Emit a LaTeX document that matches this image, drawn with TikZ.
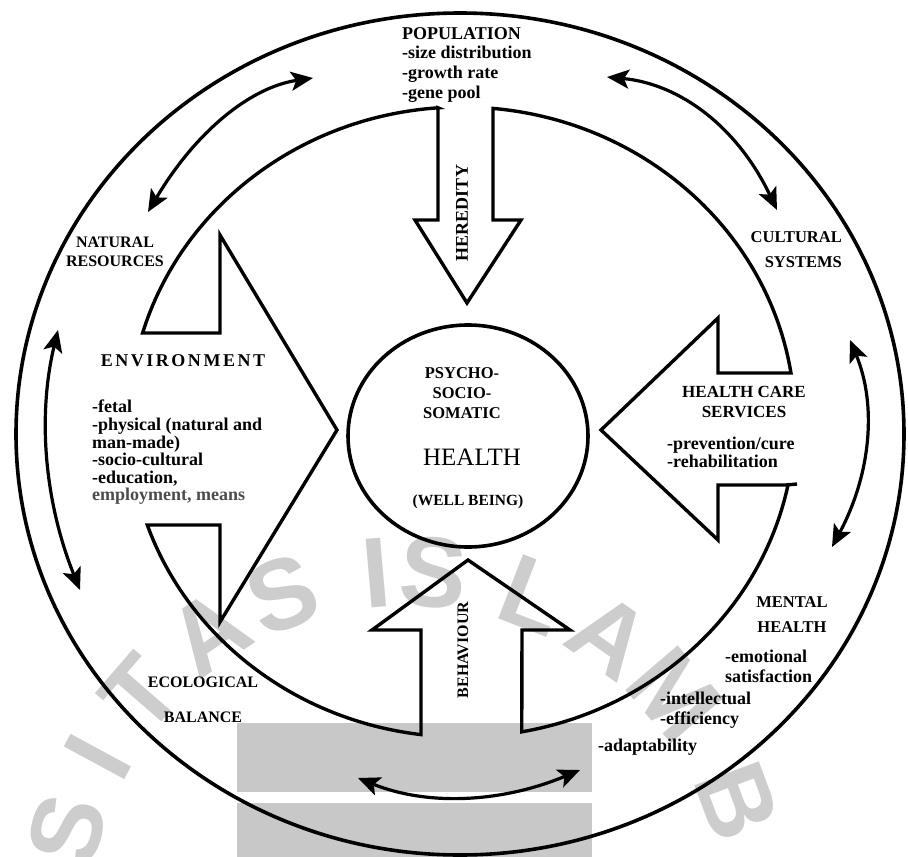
\documentclass[tikz,border=0pt]{standalone}
\usepackage{fontspec}
\setmainfont{Liberation Serif}
\newfontfamily\wmfont{Liberation Sans}
\newfontfamily\widefont[LetterSpace=14]{Liberation Serif}
\usepackage{tikz}
\usetikzlibrary{arrows.meta}
\definecolor{boxgray}{HTML}{C8C8C8}
\definecolor{wmgray}{HTML}{CDCDCD}
\newcommand\lbl[2]{\fontsize{#1}{#2}\selectfont\bfseries}

\begin{document}
\begin{tikzpicture}[x=1pt,y=-1pt, every node/.style={inner sep=0pt,font=\lbl{18}{19.7}},
  ring/.style={line width=3.6pt},
  outline/.style={line width=3.4pt,line join=miter},
  twoway/.style={line width=3.2pt,{Stealth[length=22pt,width=19pt,inset=5pt]}-{Stealth[length=22pt,width=19pt,inset=5pt]}},
  wm/.style={text=wmgray,font=\fontsize{100}{100}\selectfont\wmfont\bfseries}]
  \useasboundingbox (0,0) rectangle (908,857);
  \fill[boxgray] (237,723) rectangle (592,792);
  \fill[boxgray] (237,803) rectangle (592,857);
  \foreach \l/\a in {S/164.6,I/151.6,T/139.1,A/124.3,S/110.8,I/95,S/85.7,L/68.9,A/54.9,M/40.6,B/20.4}
    \path (407,924) ++(-\a:352) node[wm,rotate=\a-90] {\l};
  % rings and the four big arrows
  \draw[ring] (460,434) ellipse [x radius=444, y radius=421];
  \draw[ring] (468,436) ellipse [x radius=120, y radius=111];
  \draw[outline] (438,107.8) -- (438,220) -- (415,220) -- (467,303) -- (521,220) -- (493,220) -- (493,108.4)
    arc[start angle=-84.66,end angle=-8.95,x radius=333,y radius=315]
    -- (718,373) -- (718,318) -- (601,430) -- (718,540) -- (718,485) -- (788,485)
    arc[start angle=11.54,end angle=79.62,x radius=333,y radius=315]
    -- (522,630) -- (570,630) -- (468,560) -- (372,630) -- (421,630) -- (421,734.6)
    arc[start angle=97.07,end angle=160.91,x radius=333,y radius=315]
    -- (220,525) -- (220,622) -- (337,430) -- (220,235) -- (220,333) -- (142.6,333)
    arc[start angle=196.41,end angle=265.87,x radius=333,y radius=315] -- cycle;
  \draw[outline] (786,485) -- (797,484);
  % two-way arrows in the outer band
  \coordinate (nrA) at (148,212); \coordinate (popA) at (313,78);
  \coordinate (popB) at (607,77); \coordinate (csA) at (777,210);
  \coordinate (nrB) at (58,330); \coordinate (ebA) at (80,590);
  \coordinate (csB) at (850,340); \coordinate (mhA) at (832,547);
  \coordinate (ebB) at (358,778); \coordinate (mhB) at (580,770);
  \draw[twoway] (nrA) .. controls (196,131) and (251,87) .. (popA);
  \draw[twoway] (popB) .. controls (681,84) and (738,128) .. (csA);
  \draw[twoway] (nrB) .. controls (37,417) and (45,503) .. (ebA);
  \draw[twoway] (csB) .. controls (877,405) and (871,474) .. (mhA);
  \draw[twoway] (ebB) .. controls (427,806) and (501,803) .. (mhB);
  % labels
  \node[anchor=north west,align=left] (pop) at (402,27) {POPULATION\\-size distribution\\-growth rate\\-gene pool};
  \node[rotate=90,font=\lbl{18}{18}] (hered) at (462,213) {HEREDITY};
  \node[anchor=north,align=center,font=\lbl{16}{18.5}] (natres) at (115,237) {NATURAL\\RESOURCES};
  \node[anchor=north east,align=right,font=\lbl{16.5}{25}] (cult) at (842,231) {CULTURAL\\SYSTEMS};
  \node[font=\fontsize{18}{18}\selectfont\widefont\bfseries] (env) at (183,361) {ENVIRONMENT};
  \node[anchor=north west,align=left,font=\lbl{18}{17.6}] (envlist) at (92,400) {-fetal\\-physical (natural and\\man-made)\\-socio-cultural\\-education,\\\textcolor{black!70}{employment, means}};
  \node[anchor=north,align=center,font=\lbl{16.5}{20}] (psy) at (462,367) {PSYCHO-\\SOCIO-\\SOMATIC};
  \node[font=\fontsize{25}{25}\selectfont] (health) at (472,457) {HEALTH};
  \node[font=\lbl{15.5}{18}] (wb) at (468,502) {(WELL BEING)};
  \node[anchor=north,align=center,font=\lbl{17}{20}] (hcs) at (744,386) {HEALTH CARE\\SERVICES};
  \node[anchor=north west,align=left,font=\lbl{18}{18}] (hcslist) at (667,437) {-prevention/cure\\-rehabilitation};
  \node[anchor=north,align=center,font=\lbl{16.5}{25}] (mh) at (792,596) {MENTAL\\HEALTH};
  \node[anchor=north west,align=left,font=\lbl{18}{20}] (emo) at (725,650) {-emotional\\satisfaction};
  \node[anchor=north west,align=left,font=\lbl{18}{20}] (intel) at (660,692) {-intellectual\\-efficiency};
  \node[anchor=west] (adapt) at (598,747) {-adaptability};
  \node[align=center,font=\lbl{16}{35}] (eco) at (203,700) {ECOLOGICAL\\BALANCE};
  \node[rotate=90,font=\lbl{16}{18}] (behav) at (463,650) {BEHAVIOUR};
\end{tikzpicture}
\end{document}
